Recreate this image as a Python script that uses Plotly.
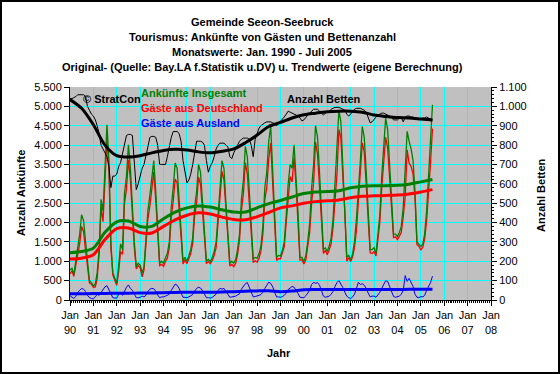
import pandas as pd
import plotly.graph_objects as go

# ---------------- data ----------------
# Monthly arrivals Jan 1990 - Jul 2005
total = [
    780, 820, 650, 1000, 1400, 1700, 2200, 2050, 1500, 1000, 500, 450,        # 1990
    360, 420, 700, 1300, 2600, 2300, 3300, 4525, 3600, 1500, 700, 550,        # 1991
    430, 900, 1450, 1300, 2750, 3200, 4010, 3400, 2300, 1500, 860, 950,       # 1992
    900, 700, 850, 1500, 2300, 2700, 3200, 3600, 2800, 1900, 950, 1000,       # 1993
    950, 1100, 1200, 1500, 2400, 2900, 3535, 3400, 2600, 1800, 1000, 1100,    # 1994
    1000, 1150, 1300, 1600, 2400, 2800, 3500, 3300, 2500, 1800, 1000, 1050,   # 1995
    990, 1100, 1250, 1500, 2300, 2900, 3600, 3400, 2500, 1700, 950, 1000,     # 1996
    950, 1050, 1300, 1700, 2600, 3100, 3965, 3700, 2800, 1900, 1050, 1100,    # 1997
    1080, 1200, 1400, 1900, 2900, 3300, 4100, 4480, 3200, 2200, 1100, 1150,   # 1998
    1135, 1300, 1500, 2200, 3000, 3500, 3400, 4010, 3200, 2300, 1100, 1100,   # 1999
    990, 1150, 1500, 2000, 2900, 3500, 4510, 4200, 3300, 2400, 1300, 1350,    # 2000
    1250, 1400, 1600, 2100, 3000, 3700, 4900, 4600, 3500, 2500, 1100, 1150,   # 2001
    1035, 1200, 1500, 2100, 3000, 3600, 4480, 4200, 3300, 2400, 1300, 1300,   # 2002
    1350, 1205, 1700, 2200, 3200, 3900, 4700, 4400, 3500, 2500, 1700, 1700,   # 2003
    1640, 1750, 1900, 2400, 3300, 4355, 4100, 3900, 3600, 2800, 1500, 1450,   # 2004
    1380, 1450, 1700, 2300, 3300, 4000, 5040,                                 # 2005
]
domestic = [
    670, 760, 610, 910, 1200, 1450, 1900, 1770, 1280, 880, 440, 410,
    330, 340, 550, 1180, 2400, 2020, 2960, 4155, 3350, 1350, 640, 500,
    380, 750, 1250, 1180, 2500, 2870, 3620, 3100, 2050, 1350, 800, 890,
    830, 600, 770, 1380, 2080, 2420, 2900, 3310, 2570, 1770, 890, 920,
    870, 1000, 1080, 1350, 2150, 2550, 3125, 3020, 2300, 1620, 930, 1030,
    940, 1070, 1200, 1460, 2170, 2500, 3170, 2990, 2260, 1650, 940, 990,
    940, 1030, 1150, 1350, 2050, 2600, 3320, 3100, 2280, 1560, 880, 920,
    860, 950, 1170, 1540, 2320, 2750, 3545, 3250, 2470, 1700, 970, 1010,
    980, 1080, 1260, 1700, 2600, 2900, 3640, 4050, 2860, 2000, 1020, 1070,
    1065, 1210, 1380, 2020, 2730, 3190, 3050, 3680, 2940, 2130, 1030, 1040,
    930, 1040, 1330, 1750, 2500, 3045, 4080, 3750, 2920, 2150, 1200, 1280,
    1170, 1300, 1450, 1880, 2650, 3250, 4400, 4180, 3180, 2300, 1000, 1090,
    995, 1120, 1350, 1800, 2545, 3200, 4060, 3820, 3000, 2220, 1220, 1200,
    1250, 1135, 1580, 2000, 2900, 3480, 4200, 3920, 3150, 2300, 1610, 1630,
    1560, 1650, 1750, 2150, 2670, 3875, 3540, 3450, 3250, 2650, 1430, 1390,
    1290, 1370, 1580, 2050, 2950, 3550, 4425,
]
foreign = [
    110, 60, 40, 90, 200, 250, 300, 280, 220, 120, 60, 40,
    30, 80, 150, 120, 200, 280, 340, 370, 250, 150, 60, 50,
    50, 150, 200, 120, 250, 330, 390, 300, 250, 150, 60, 60,
    70, 100, 80, 120, 220, 280, 300, 290, 230, 130, 60, 80,
    80, 100, 120, 150, 250, 350, 410, 380, 300, 180, 70, 70,
    60, 80, 100, 140, 230, 300, 330, 310, 240, 150, 60, 60,
    50, 70, 100, 150, 250, 300, 280, 300, 220, 140, 70, 80,
    90, 100, 130, 160, 280, 350, 420, 450, 330, 200, 80, 90,
    100, 120, 140, 200, 300, 400, 460, 430, 340, 200, 80, 80,
    70, 90, 120, 180, 270, 310, 350, 330, 260, 170, 70, 60,
    60, 110, 170, 250, 400, 455, 430, 450, 380, 250, 100, 70,
    80, 100, 150, 220, 350, 450, 500, 420, 320, 200, 100, 60,
    40, 80, 150, 300, 455, 400, 420, 380, 300, 180, 80, 100,
    100, 70, 120, 200, 300, 420, 500, 480, 350, 200, 90, 70,
    80, 100, 150, 250, 630, 480, 560, 450, 350, 150, 70, 60,
    90, 80, 120, 250, 350, 450, 615,
]
# Monthly number of beds (right axis)
beds = [
    1040, 1040, 1045, 1050, 1060, 1060, 1060, 1060, 1050, 1000, 980, 960,
    950, 930, 900, 860, 800, 780, 760, 740, 690, 580, 640, 640,
    650, 690, 710, 760, 810, 850, 855, 855, 850, 720, 570, 600,
    640, 680, 700, 740, 790, 840, 845, 845, 840, 800, 700, 700,
    700, 700, 740, 800, 840, 870, 870, 870, 860, 820, 720, 650,
    605, 620, 650, 700, 760, 820, 820, 820, 815, 800, 720, 660,
    690, 710, 740, 780, 800, 810, 810, 810, 800, 790, 740, 730,
    760, 780, 800, 820, 830, 836, 836, 836, 830, 800, 740, 830,
    860, 888, 900, 910, 915, 920, 920, 920, 915, 910, 900, 910,
    925, 935, 945, 960, 975, 970, 965, 960, 955, 950, 940, 925,
    930, 945, 955, 965, 975, 985, 985, 985, 975, 965, 955, 965,
    970, 975, 985, 990, 995, 995, 995, 990, 985, 980, 960, 950,
    960, 975, 985, 990, 990, 990, 985, 980, 970, 940, 915, 920,
    935, 945, 955, 960, 965, 965, 960, 955, 950, 945, 930, 930,
    930, 940, 945, 920, 945, 950, 950, 945, 945, 940, 935, 935,
    935, 940, 940, 945, 940, 935, 930,
]

# Trend values (Jan / Jul of each year, 1990-01 .. 2005-07)
trend_total = [1220, 1250, 1340, 1750, 2020, 2040, 1900, 1900, 2100, 2270, 2380, 2430,
               2400, 2330, 2270, 2270, 2380, 2490, 2570, 2660, 2750, 2790, 2800, 2820,
               2900, 2940, 2950, 2950, 2960, 2990, 3050, 3110]
trend_domestic = [1060, 1080, 1170, 1560, 1840, 1860, 1740, 1730, 1900, 2070, 2190, 2250,
                  2220, 2140, 2080, 2070, 2150, 2260, 2380, 2430, 2500, 2540, 2560, 2580,
                  2640, 2680, 2690, 2700, 2710, 2740, 2790, 2850]
trend_foreign = [160, 160, 165, 170, 175, 175, 180, 180, 190, 195, 200, 200,
                 200, 205, 215, 225, 235, 240, 215, 230, 265, 270, 270, 270,
                 270, 270, 270, 270, 270, 275, 275, 275]
trend_beds = [1035, 990, 905, 800, 745, 738, 745, 760, 772, 778, 775, 765,
              760, 768, 780, 812, 852, 896, 917, 940, 957, 965, 972, 975,
              975, 970, 955, 948, 942, 940, 935, 930]

left_tickvals = [0, 500, 1000, 1500, 2000, 2500, 3000, 3500, 4000, 4500, 5000, 5500]
left_ticktext = ["0", "500", "1.000", "1.500", "2.000", "2.500", "3.000", "3.500",
                 "4.000", "4.500", "5.000", "5.500"]
right_tickvals = [0, 100, 200, 300, 400, 500, 600, 700, 800, 900, 1000, 1100]
right_ticktext = ["0", "100", "200", "300", "400", "500", "600", "700", "800", "900",
                  "1.000", "1.100"]
year_labels = ["90", "91", "92", "93", "94", "95", "96", "97", "98", "99",
               "00", "01", "02", "03", "04", "05", "06", "07", "08"]

title_lines = [
    "Gemeinde Seeon-Seebruck",
    "Tourismus: Ankünfte von Gästen und Bettenanzahl",
    "Monatswerte: Jan. 1990 - Juli 2005",
    "Original- (Quelle: Bay.LA f.Statistik u.DV) u. Trendwerte (eigene Berechnung)",
]

# ---------------- figure ----------------
months = pd.date_range("1990-01-01", periods=len(total), freq="MS")
half_years = pd.date_range("1990-01-01", periods=len(trend_total), freq="6MS")
year_ticks = pd.date_range("1990-01-01", periods=len(year_labels), freq="12MS")

FONT = "Liberation Sans, Arial, sans-serif"
GREEN, RED, BLUE, BLACK = "#008000", "#FF0000", "#0000FF", "#000000"

fig = go.Figure()
fig.add_trace(go.Scatter(x=months, y=foreign, mode="lines", line=dict(color=BLUE, width=1)))
fig.add_trace(go.Scatter(x=months, y=domestic, mode="lines", line=dict(color=RED, width=1.3)))
fig.add_trace(go.Scatter(x=months, y=total, mode="lines", line=dict(color=GREEN, width=1.3)))
fig.add_trace(go.Scatter(x=half_years, y=trend_foreign, mode="lines",
                         line=dict(color=BLUE, width=3, shape="spline", smoothing=0.8)))
fig.add_trace(go.Scatter(x=half_years, y=trend_domestic, mode="lines",
                         line=dict(color=RED, width=3, shape="spline", smoothing=0.8)))
fig.add_trace(go.Scatter(x=half_years, y=trend_total, mode="lines",
                         line=dict(color=GREEN, width=3, shape="spline", smoothing=0.8)))
fig.add_trace(go.Scatter(x=months, y=beds, mode="lines", yaxis="y2",
                         line=dict(color=BLACK, width=1)))
fig.add_trace(go.Scatter(x=half_years, y=trend_beds, mode="lines", yaxis="y2",
                         line=dict(color=BLACK, width=3, shape="spline", smoothing=0.8)))

L, R, T, B, W, H = 70, 69, 87, 74, 560, 374
PW, PH = W - L - R, H - T - B


def px(x):
    return (x - L) / PW


def py(y):
    return (H - B - y) / PH


fig.update_layout(
    width=W, height=H,
    margin=dict(l=L, r=R, t=T, b=B, pad=0),
    paper_bgcolor="white", plot_bgcolor="#C0C0C0",
    showlegend=False,
    font=dict(family=FONT, size=11, color="black"),
    xaxis=dict(
        type="date", range=[year_ticks[0], year_ticks[-1]],
        tickvals=list(year_ticks), ticktext=[f"Jan<br>{y}" for y in year_labels],
        showgrid=True, gridcolor="#00FFFF", gridwidth=1,
        showline=True, linecolor="black", linewidth=1,
        ticks="outside", ticklen=5, tickcolor="black",
        minor=dict(dtick="M1", ticks="outside", ticklen=2, tickcolor="black", showgrid=False),
        zeroline=False, tickangle=0, tickfont=dict(size=11),
    ),
    yaxis=dict(
        range=[0, 5500], tickvals=left_tickvals, ticktext=left_ticktext,
        showgrid=True, gridcolor="#00FFFF", gridwidth=1,
        showline=True, linecolor="black", linewidth=1,
        ticks="outside", ticklen=5, tickcolor="black", zeroline=False,
        tickfont=dict(size=11),
    ),
    yaxis2=dict(
        overlaying="y", side="right", range=[0, 1100],
        tickvals=right_tickvals, ticktext=right_ticktext,
        showgrid=False, showline=True, linecolor="black", linewidth=1,
        ticks="outside", ticklen=5, tickcolor="black", zeroline=False,
        minor=dict(dtick=20, ticks="outside", ticklen=2, tickcolor="black"),
        tickfont=dict(size=11),
    ),
)

ann = []
for i, line in enumerate(title_lines):
    ann.append(dict(text=f"<b>{line}</b>", x=px(262), y=py(22 + 15 * i),
                    xanchor="center", yanchor="middle"))
ann.append(dict(text="<b>Anzahl Ankünfte</b>", x=px(21), y=py(193), textangle=-90,
                xanchor="center", yanchor="middle"))
ann.append(dict(text="<b>Anzahl Betten</b>", x=px(541), y=py(195), textangle=-90,
                xanchor="center", yanchor="middle"))
ann.append(dict(text="<b>Jahr</b>", x=px(279), y=py(353), xanchor="center", yanchor="middle"))
ann.append(dict(text="<b>© StratCon</b>", x=px(81), y=py(99), xanchor="left", yanchor="middle"))
ann.append(dict(text="<b>Ankünfte Insgesamt</b>", x=px(139), y=py(93), xanchor="left",
                yanchor="middle", font=dict(color=GREEN)))
ann.append(dict(text="<b>Gäste aus Deutschland</b>", x=px(139), y=py(108), xanchor="left",
                yanchor="middle", font=dict(color=RED)))
ann.append(dict(text="<b>Gäste aus Ausland</b>", x=px(139), y=py(123), xanchor="left",
                yanchor="middle", font=dict(color=BLUE)))
ann.append(dict(text="<b>Anzahl Betten</b>", x=px(285), y=py(99), xanchor="left",
                yanchor="middle"))
for a in ann:
    a.update(xref="paper", yref="paper", showarrow=False)
    if "font" not in a:
        a["font"] = dict(size=11, color="black", family=FONT)
    else:
        a["font"].update(size=11, family=FONT)
fig.update_layout(annotations=ann)

fig.add_shape(type="rect", xref="paper", yref="paper",
              x0=px(1), x1=px(559), y0=py(373), y1=py(1),
              line=dict(color="black", width=2), layer="above")

fig.write_html("out.html", config={"displayModeBar": False},
               post_script="document.body.style.margin='0px';document.body.style.padding='0px';")
